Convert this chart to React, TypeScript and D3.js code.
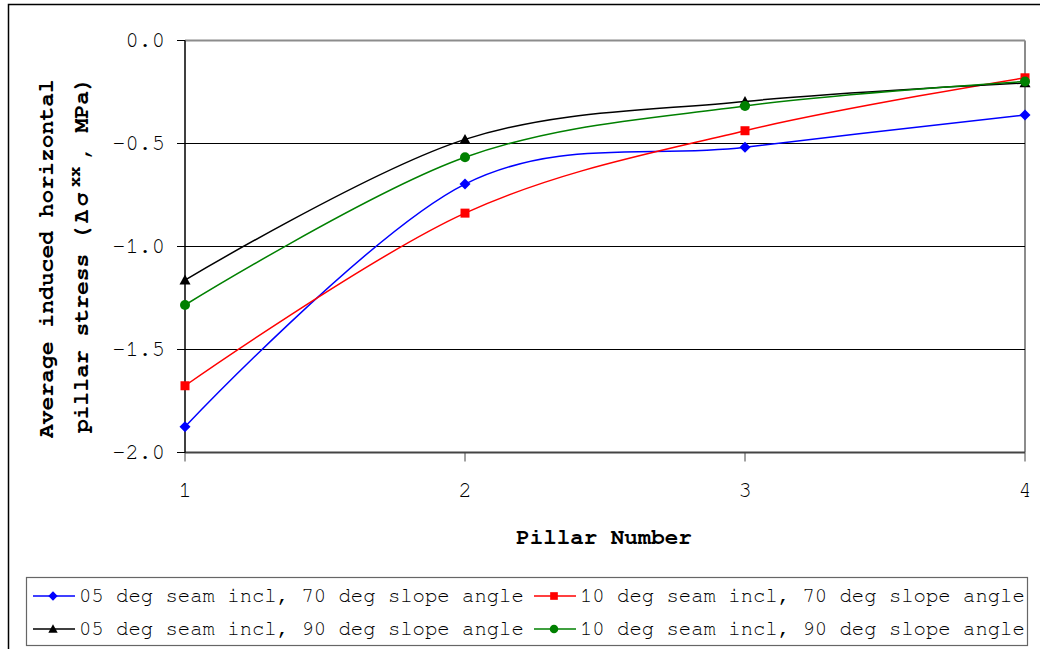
import React from "react";
import * as d3 from "d3";

const pillars = [1, 2, 3, 4];
const s05_70 = [-1.875, -0.697, -0.518, -0.362];
const s10_70 = [-1.676, -0.838, -0.438, -0.181];
const s05_90 = [-1.163, -0.480, -0.296, -0.206];
const s10_90 = [-1.284, -0.567, -0.318, -0.199];
const seriesNames = [
  "05 deg seam incl, 70 deg slope angle",
  "10 deg seam incl, 70 deg slope angle",
  "05 deg seam incl, 90 deg slope angle",
  "10 deg seam incl, 90 deg slope angle",
];
const seriesColors = ["#0000FF", "#FF0000", "#000000", "#008000"];
const seriesMarkers = ["diamond", "square", "triangle", "circle"];
const yTicks = [0, -0.5, -1.0, -1.5, -2.0];

const W = 1040;
const H = 649;
const FONT = "FreeMono, 'Courier New', monospace";

function Marker({ kind, x, y, color, s = 1 }: { kind: string; x: number; y: number; color: string; s?: number }) {
  if (kind === "diamond") {
    const r = 5.5 * s;
    return <path d={`M${x},${y - r}L${x + r},${y}L${x},${y + r}L${x - r},${y}Z`} fill={color} />;
  }
  if (kind === "square") {
    const r = 4.5 * s;
    return <rect x={x - r} y={y - r} width={2 * r} height={2 * r} fill={color} />;
  }
  if (kind === "triangle") {
    const r = 5.5 * s;
    return <path d={`M${x},${y - r}L${x + r},${y + r * 0.8}L${x - r},${y + r * 0.8}Z`} fill={color} />;
  }
  return <circle cx={x} cy={y} r={5 * s} fill={color} />;
}

export default function App() {
  const x = d3.scaleLinear().domain([1, 4]).range([185, 1025]);
  const y = d3.scaleLinear().domain([0, -2]).range([40.5, 452.5]);
  const data = [s05_70, s10_70, s05_90, s10_90];
  const line = d3
    .line<number>()
    .x((_, i) => x(pillars[i]))
    .y((d) => y(d))
    .curve(d3.curveCardinal.tension(0));

  const legendCols = [33, 534];
  const legendRows = [596, 629];

  return (
    <svg
      width={W}
      height={H}
      style={{ position: "fixed", left: 0, top: 0, background: "#fff" }}
      fontFamily={FONT}
    >
      <rect x={0} y={0} width={W} height={H} fill="#fff" />
      <rect x={8.5} y={4.5} width={1040} height={660} fill="none" stroke="#000" strokeWidth={1.5} />

      {/* plot frame */}
      <line x1={x(1)} x2={x(4)} y1={y(0)} y2={y(0)} stroke="#8c8c8c" strokeWidth={2} />
      <line x1={x(4)} x2={x(4)} y1={y(0)} y2={y(-2)} stroke="#8c8c8c" strokeWidth={2} />

      {/* gridlines */}
      {yTicks
        .filter((t) => t !== 0 && t !== -2)
        .map((t) => (
          <line key={t} x1={x(1)} x2={x(4)} y1={y(t)} y2={y(t)} stroke="#000" strokeWidth={1} />
        ))}

      {/* x axis */}
      <line x1={x(1)} x2={x(4)} y1={y(-2)} y2={y(-2)} stroke="#444" strokeWidth={2} />
      {pillars.map((p) => (
        <g key={p}>
          <line x1={x(p)} x2={x(p)} y1={y(-2)} y2={y(-2) + 9} stroke="#444" strokeWidth={1} />
          <text x={x(p)} y={y(-2) + 44} fontSize={22} textAnchor="middle" fill="#000">
            {p}
          </text>
        </g>
      ))}
      <text x={604} y={544} fontSize={22.5} fontWeight="bold" textAnchor="middle" fill="#000">
        Pillar Number
      </text>

      {/* y axis */}
      <line x1={x(1)} x2={x(1)} y1={y(0)} y2={y(-2)} stroke="#000" strokeWidth={1.5} />
      {yTicks.map((t) => (
        <g key={t}>
          <line x1={177} x2={x(1)} y1={y(t)} y2={y(t)} stroke="#000" strokeWidth={1} />
          <text x={165} y={y(t) + 6} fontSize={22} textAnchor="end" fill="#000">
            {t.toFixed(1)}
          </text>
        </g>
      ))}
      <g transform="translate(53,0) rotate(-90)" fontSize={23} fontWeight="bold" fill="#000">
        <text x={-438} y={0}>Average induced horizontal</text>
      </g>
      <g transform="translate(88,0) rotate(-90)" fontSize={23} fontWeight="bold" fill="#000">
        <text x={-433} y={0}>pillar stress</text>
        <text x={-240} y={0} letterSpacing={3}>(Δσ</text>
        <text x={-187} y={-8} fontSize={17}>xx</text>
        <text x={-160} y={0}>, MPa)</text>
      </g>

      {/* series */}
      {data.map((vals, si) => (
        <g key={si}>
          <path d={line(vals) || ""} fill="none" stroke={seriesColors[si]} strokeWidth={1.5} />
          {vals.map((v, i) => (
            <Marker key={i} kind={seriesMarkers[si]} x={x(pillars[i])} y={y(v)} color={seriesColors[si]} />
          ))}
        </g>
      ))}

      {/* legend */}
      <rect x={26.5} y={577.5} width={1001} height={68} fill="#fff" stroke="#666" strokeWidth={1.2} />
      {seriesNames.map((name, i) => {
        const lx = legendCols[i % 2];
        const ly = legendRows[Math.floor(i / 2)];
        return (
          <g key={name}>
            <line x1={lx} x2={lx + 42} y1={ly} y2={ly} stroke={seriesColors[i]} strokeWidth={1.5} />
            <Marker kind={seriesMarkers[i]} x={lx + 20} y={ly} color={seriesColors[i]} s={0.85} />
            <text x={lx + 46} y={ly + 6} fontSize={20.6} fill="#000">
              {name}
            </text>
          </g>
        );
      })}
    </svg>
  );
}
